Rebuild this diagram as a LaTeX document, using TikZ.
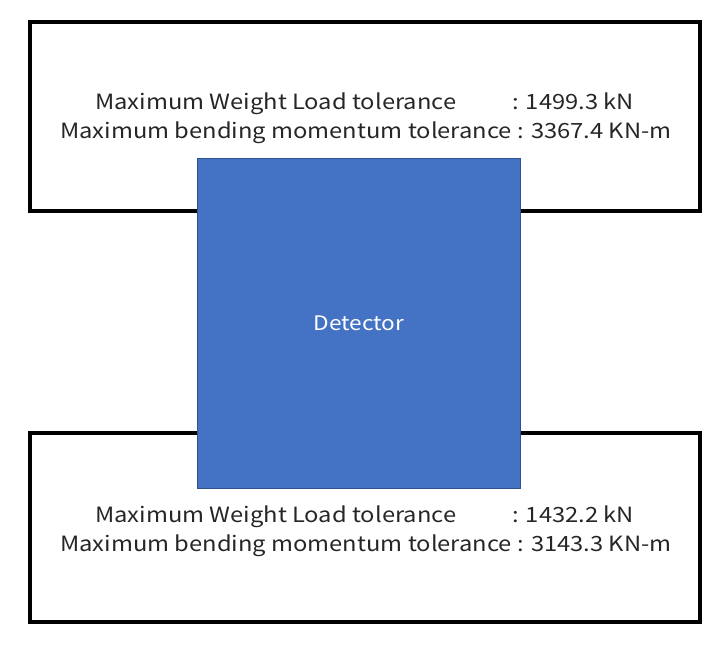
\documentclass[tikz,border=0pt]{standalone}
\usepackage{fontspec}
\setmainfont{Noto Sans CJK JP}[FakeStretch=1.13]
\definecolor{detblue}{HTML}{4472C4}
\definecolor{detedge}{HTML}{2F528F}
\tikzset{
  frame/.style={draw=black, line width=4pt, fill=white},
  detbox/.style={draw=detedge, line width=0.8pt, fill=detblue},
  lbl/.style={anchor=base west, inner sep=0pt, font=\fontsize{21}{25}\selectfont, text=black!85}
}
\begin{document}
\begin{tikzpicture}[x=1pt,y=-1pt]
\useasboundingbox (0,0) rectangle (727,647);
% frames
\draw[frame] (30,22) rectangle (700,211);
\draw[frame] (30,433) rectangle (700,622);
% detector
\node[detbox, minimum width=323pt, minimum height=330pt, inner sep=0pt, anchor=north west] (det) at (197,158) {};
\node[text=white, font=\fontsize{20}{24}\selectfont] (dl) at (det.center) {Detector};
% top text
\node[lbl] (t1a) at (95,110) {Maximum Weight Load tolerance};
\node[lbl] (t1b) at (512,110) {: 1499.3 kN};
\node[lbl] (t2) at (60,139) {Maximum bending momentum tolerance : 3367.4 KN-m};
% bottom text
\node[lbl] (b1a) at (95,522) {Maximum Weight Load tolerance};
\node[lbl] (b1b) at (512,522) {: 1432.2 kN};
\node[lbl] (b2) at (60,551) {Maximum bending momentum tolerance : 3143.3 KN-m};
\end{tikzpicture}
\end{document}
